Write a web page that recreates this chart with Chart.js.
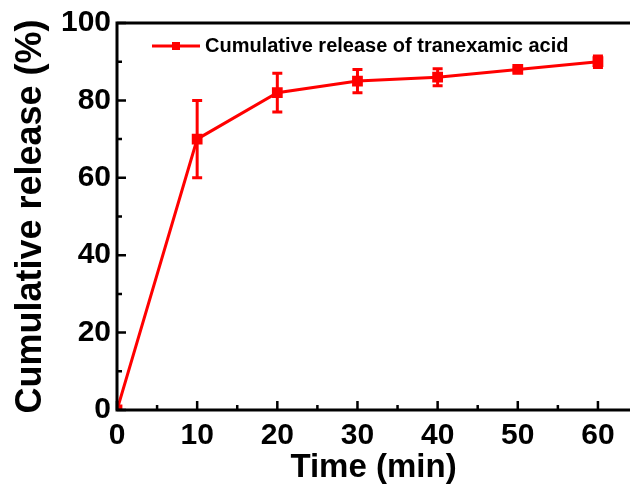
<!DOCTYPE html>
<html>
<head>
<meta charset="utf-8">
<script src="https://cdn.jsdelivr.net/npm/chart.js@4.4.1/dist/chart.umd.min.js"></script>
<style>
  html, body { margin: 0; padding: 0; background: #fff; overflow: hidden; }
  #wrap { position: relative; width: 630px; height: 492px; }
  canvas { display: block; }
</style>
</head>
<body>
<div id="wrap"><canvas id="c"></canvas></div>
<script>
const timeMin = [0, 10, 20, 30, 40, 50, 60];
const releasePct = [0, 70, 82, 85, 86, 88, 90];
const releaseErr = [0, 10, 5, 3, 2.2, 0.5, 1.5];
const xTickValues = [0, 10, 20, 30, 40, 50, 60];
const xMinorTicks = [5, 15, 25, 35, 45, 55];
const yTickValues = [0, 20, 40, 60, 80, 100];
const yMinorTicks = [10, 30, 50, 70, 90];
const seriesLabel = 'Cumulative release of tranexamic acid';

const RED = '#ff0000';
const FONT = "'Liberation Sans', Arial, sans-serif";

// error bars
const errorBars = {
    id: 'errorBars',
    afterDatasetsDraw(chart) {
        const ctx = chart.ctx;
        const y = chart.scales.y;
        const meta = chart.getDatasetMeta(0);
        ctx.save();
        ctx.strokeStyle = RED;
        ctx.lineWidth = 3;
        meta.data.forEach((pt, i) => {
            const e = releaseErr[i];
            if (!e) return;
            const top = y.getPixelForValue(releasePct[i] + e);
            const bot = y.getPixelForValue(releasePct[i] - e);
            ctx.beginPath();
            ctx.moveTo(pt.x, top); ctx.lineTo(pt.x, bot);
            ctx.moveTo(pt.x - 5, top); ctx.lineTo(pt.x + 5, top);
            ctx.moveTo(pt.x - 5, bot); ctx.lineTo(pt.x + 5, bot);
            ctx.stroke();
        });
        ctx.restore();
    }
};

// frame with inward ticks + legend inside the plot
const frame = {
    id: 'frame',
    afterDraw(chart) {
        const ctx = chart.ctx;
        const a = chart.chartArea;
        const xs = chart.scales.x, ys = chart.scales.y;
        ctx.save();
        ctx.strokeStyle = '#000';
        ctx.lineWidth = 3;
        ctx.beginPath();
        ctx.moveTo(a.left, a.top); ctx.lineTo(a.left, a.bottom);
        ctx.moveTo(a.left - 1.5, a.bottom); ctx.lineTo(chart.width, a.bottom);
        ctx.moveTo(a.left - 1.5, a.top); ctx.lineTo(chart.width, a.top);
        ctx.stroke();

        ctx.lineWidth = 2.5;
        ctx.beginPath();
        xTickValues.forEach(v => { const px = xs.getPixelForValue(v); ctx.moveTo(px, a.bottom); ctx.lineTo(px, a.bottom - 9); });
        xMinorTicks.forEach(v => { const px = xs.getPixelForValue(v); ctx.moveTo(px, a.bottom); ctx.lineTo(px, a.bottom - 5); });
        yTickValues.forEach(v => { const py = ys.getPixelForValue(v); ctx.moveTo(a.left, py); ctx.lineTo(a.left + 9, py); });
        yMinorTicks.forEach(v => { const py = ys.getPixelForValue(v); ctx.moveTo(a.left, py); ctx.lineTo(a.left + 5, py); });
        ctx.stroke();

        // legend
        const lx = a.left + 35, ly = a.top + 23;
        ctx.strokeStyle = RED;
        ctx.fillStyle = RED;
        ctx.lineWidth = 3;
        ctx.beginPath();
        ctx.moveTo(lx, ly); ctx.lineTo(lx + 48, ly);
        ctx.stroke();
        ctx.fillRect(lx + 24 - 4, ly - 4, 8, 8);
        ctx.fillStyle = '#000';
        ctx.font = 'bold 20px ' + FONT;
        ctx.textBaseline = 'middle';
        ctx.fillText(chart.data.datasets[0].label, lx + 53, ly);
        ctx.restore();
    }
};

new Chart(document.getElementById('c'), {
    type: 'line',
    data: {
        datasets: [{
            label: seriesLabel,
            data: timeMin.map((t, i) => ({ x: t, y: releasePct[i] })),
            borderColor: RED,
            backgroundColor: RED,
            borderWidth: 3,
            tension: 0,
            pointStyle: 'rect',
            pointRadius: 5.5,
            pointHoverRadius: 5.5
        }]
    },
    options: {
        responsive: true,
        maintainAspectRatio: false,
        animation: false,
        events: [],
        layout: { autoPadding: false, padding: { top: 23, right: 0, left: 0, bottom: 0 } },
        plugins: { legend: { display: false }, tooltip: { enabled: false } },
        scales: {
            x: {
                type: 'linear',
                bounds: 'data',
                min: 0,
                max: 64,
                afterBuildTicks: s => { s.ticks = xTickValues.map(v => ({ value: v })); },
                afterFit: s => { s.height = 82; s.paddingLeft = 0; s.paddingRight = 0; },
                grid: { display: false, drawTicks: false },
                border: { display: false },
                ticks: { color: '#000', padding: 8, font: { family: FONT, size: 30, weight: 'bold' } },
                title: { display: true, text: 'Time (min)', color: '#000', padding: { top: 4, bottom: 4 },
                    font: { family: FONT, size: 33, weight: 'bold' } }
            },
            y: {
                bounds: 'data',
                min: 0,
                max: 100,
                afterBuildTicks: s => { s.ticks = yTickValues.map(v => ({ value: v })); },
                afterFit: s => { s.width = 117; s.paddingTop = 0; s.paddingBottom = 0; },
                grid: { display: false, drawTicks: false },
                border: { display: false },
                ticks: { color: '#000', padding: 6, font: { family: FONT, size: 30, weight: 'bold' } },
                title: { display: true, text: 'Cumulative release (%)', color: '#000', padding: { top: 9, bottom: 9 },
                    font: { family: FONT, size: 36, weight: 'bold' } }
            }
        }
    },
    plugins: [errorBars, frame]
});
</script>
</body>
</html>
